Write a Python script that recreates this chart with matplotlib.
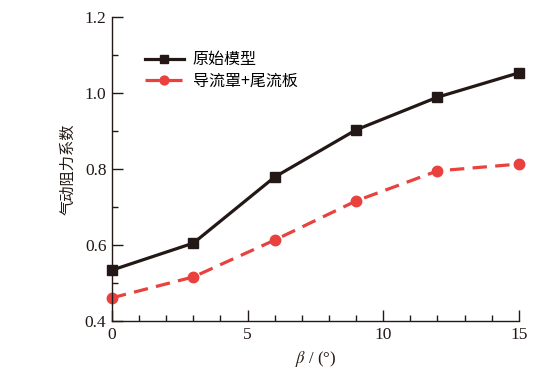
import matplotlib
matplotlib.use("Agg")
import matplotlib.pyplot as plt
from matplotlib.ticker import MultipleLocator, FormatStrFormatter

beta = [0, 3, 6, 9, 12, 15]
orig = [0.534, 0.605, 0.779, 0.903, 0.989, 1.053]
mod = [0.461, 0.516, 0.613, 0.716, 0.795, 0.813]
labels = ["原始模型", "导流罩+尾流板"]

plt.rcParams["font.family"] = ["Liberation Serif", "DejaVu Serif"]
plt.rcParams["mathtext.fontset"] = "stix"
cjk = ["Noto Sans CJK SC", "DejaVu Sans"]

fig = plt.figure(figsize=(5.59, 3.78), dpi=100)
ax = fig.add_axes([0.2004, 0.1508, 0.7277, 0.8042])
black = "#231815"
red = "#e8413e"
ax.plot(beta, orig, color=black, lw=2.3, marker="s", ms=7, label=labels[0], clip_on=False)
ax.plot(beta, mod, color=red, lw=2.3, ls=(0, (4.5, 2.6)), marker="o", ms=7.5,
        label=labels[1], clip_on=False)

ax.set_xlim(0, 15)
ax.set_ylim(0.4, 1.2)
ax.xaxis.set_major_locator(MultipleLocator(5))
ax.xaxis.set_minor_locator(MultipleLocator(1))
ax.yaxis.set_major_locator(MultipleLocator(0.2))
ax.yaxis.set_minor_locator(MultipleLocator(0.1))
ax.yaxis.set_major_formatter(FormatStrFormatter("%.1f"))
for s in ["top", "right"]:
    ax.spines[s].set_visible(False)
for s in ["left", "bottom"]:
    ax.spines[s].set_color(black)
    ax.spines[s].set_linewidth(1.0)
ax.tick_params(which="both", direction="in", color=black, width=1.0, labelcolor=black)
ax.tick_params(which="major", length=8, labelsize=12.5, pad=4)
ax.tick_params(which="minor", length=4)

ax.set_ylabel("气动阻力系数", family=cjk, fontsize=11, labelpad=6, color=black)
ax.set_xlabel(r"$\it{\beta}$ / (°)", fontsize=12, labelpad=5, color=black)

leg = ax.legend(loc="upper left", bbox_to_anchor=(0.045, 0.935), frameon=False,
                prop={"family": cjk, "size": 11.5}, handlelength=2.45, handletextpad=0.55,
                labelspacing=0.3, markerscale=0.85)
fig.savefig("out.png", dpi=100)
